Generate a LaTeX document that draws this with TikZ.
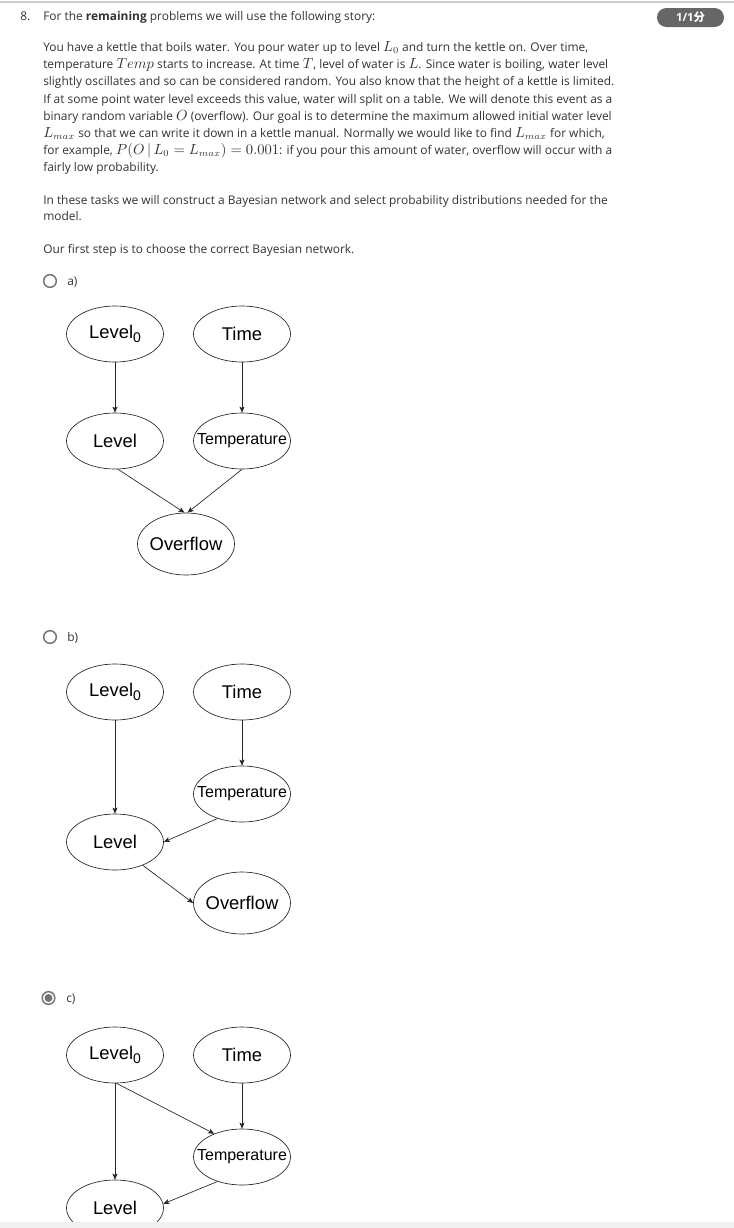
\documentclass[tikz,border=0pt]{standalone}
\usepackage[no-math]{fontspec}
\setmainfont{Open Sans}
\newfontfamily\arialf{Liberation Sans}
\newfontfamily\cjk{Noto Sans CJK SC}
\usetikzlibrary{shapes.geometric,arrows.meta,calc}
\definecolor{txt}{HTML}{333333}
\newcommand{\mth}[1]{{\fontsize{10.6pt}{12pt}\selectfont$#1$}}
\newcommand{\lvz}{\makebox[0pt]{Level\raisebox{-3pt}{\fontsize{10.5pt}{12pt}\selectfont 0}}}
\newcommand{\zw}[1]{\makebox[0pt]{#1}}
\begin{document}
\begin{tikzpicture}[x=0.75pt,y=-0.75pt,
  txtline/.style={anchor=base west, inner sep=0pt, text=txt, font=\fontsize{8.95pt}{10pt}\selectfont},
  bn/.style={ellipse, draw=black!85, line width=0.5pt, minimum width=72.75pt, minimum height=42pt, inner sep=0pt, font=\arialf\fontsize{13.8pt}{16pt}\selectfont},
  bnt/.style={bn, font=\arialf\fontsize{12pt}{14pt}\selectfont},
  bno/.style={bn, minimum height=46.5pt},
  arr/.style={draw=black!85, line width=0.5pt, -{Stealth[length=4.5pt,width=3.8pt,inset=1pt]}},
  radio/.style={circle, draw=black!55, line width=1.1pt, minimum size=9.5pt, inner sep=0pt},
]
\useasboundingbox (0,0) rectangle (734,1228);
\fill[white] (0,0) rectangle (734,1228);
\draw[black!20, line width=1pt] (0,2) -- (734,2);

% header
\node[txtline] (num) at (20,20.5) {8.};
\node[txtline] (head) at (43,20.5) {For the \textbf{remaining} problems we will use the following story:};
\node[fill=black!60, rounded corners=7pt, minimum width=50.25pt, minimum height=14.25pt, inner sep=0pt, text=white, font=\bfseries\fontsize{8.5pt}{10pt}\selectfont] (badge) at (690.5,17.5) {1/1{\cjk\bfseries 分}};

% story
\node[txtline] (l1) at (43,51.5) {You have a kettle that boils water. You pour water up to level \mth{L_0} and turn the kettle on. Over time,};
\node[txtline] (l2) at (43,68.5) {temperature \mth{Temp} starts to increase. At time \mth{T}, level of water is \mth{L}. Since water is boiling, water level};
\node[txtline] (l3) at (43,85.5) {slightly oscillates and so can be considered random. You also know that the height of a kettle is limited.};
\node[txtline] (l4) at (43,103) {If at some point water level exceeds this value, water will split on a table. We will denote this event as a};
\node[txtline] (l5) at (43,120) {binary random variable \mth{O} (overflow). Our goal is to determine the maximum allowed initial water level};
\node[txtline] (l6) at (43,137) {\mth{L_{max}} so that we can write it down in a kettle manual. Normally we would like to find \mth{L_{max}} for which,};
\node[txtline] (l7) at (43,154.5) {for example, \mth{P(O\,|\,L_0=L_{max})=0.001}: if you pour this amount of water, overflow will occur with a};
\node[txtline] (l8) at (43,171) {fairly low probability.};

\node[txtline] (m1) at (43,204) {In these tasks we will construct a Bayesian network and select probability distributions needed for the};
\node[txtline] (m2) at (43,220.5) {model.};
\node[txtline] (m3) at (43,253.5) {Our first step is to choose the correct Bayesian network.};

% options
\node[radio] (ra) at (50,281) {};
\node[txtline] (ta) at (67,285) {a)};
\node[radio] (rb) at (50,637) {};
\node[txtline] (tb) at (67,641) {b)};
\node[radio] (rc) at (48.5,998) {};
\fill[black!55] (rc.center) circle (3pt);
\node[txtline] (tcl) at (66,1002) {c)};

% diagram a
\node[bn] (la0) at (115,334) {\lvz};
\node[bn] (tia) at (242,334) {\zw{Time}};
\node[bn] (la) at (115,441) {\zw{Level}};
\node[bnt] (tpa) at (242,441) {\zw{Temperature}};
\node[bno] (oa) at (186,544) {\zw{Overflow}};
\draw[arr] (la0) -- (la);
\draw[arr] (tia) -- (tpa);
\draw[arr] (la.-84) -- ($(oa.north)+(-1.5,0)$);
\draw[arr] (tpa.south) -- ($(oa.north)+(1.5,0)$);

% diagram b
\node[bn] (lb0) at (115,692) {\lvz};
\node[bn] (tib) at (242,692) {\zw{Time}};
\node[bnt] (tpb) at (242,794) {\zw{Temperature}};
\node[bn] (lb) at (115,842) {\zw{Level}};
\node[bno] (ob) at (242,903) {\zw{Overflow}};
\draw[arr] (lb0) -- (lb);
\draw[arr] (tib) -- (tpb);
\draw[arr] (tpb.-135) -- (lb.east);
\draw[arr] (lb.-40) -- (ob.west);

% diagram c
\node[bn] (lc0) at (115,1055) {\lvz};
\node[bn] (tic) at (242,1055) {\zw{Time}};
\node[bnt] (tpc) at (242,1157) {\zw{Temperature}};
\node[bn] (lc) at (115,1208) {\zw{Level}};
\draw[arr] (lc0) -- (lc);
\draw[arr] (tic) -- (tpc);
\draw[arr] (lc0.-87) -- (tpc.140);
\draw[arr] (tpc.-135) -- (lc.5);

\fill[black!6] (0,1222) rectangle (734,1228);
\end{tikzpicture}
\end{document}
